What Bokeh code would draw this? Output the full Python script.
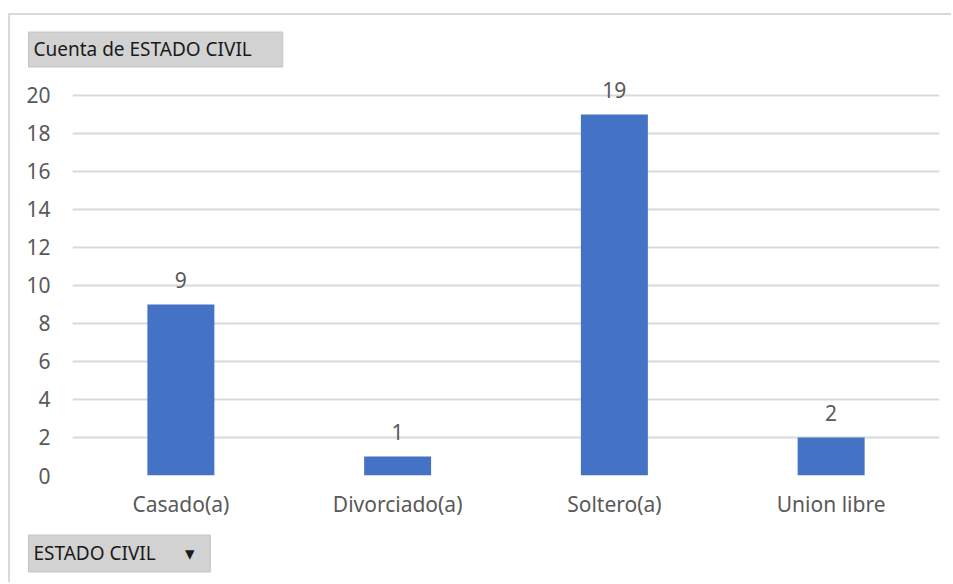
from bokeh.plotting import figure
from bokeh.models import Title, FixedTicker, ColumnDataSource
from bokeh.core.properties import value
from bokeh.embed import file_html
from bokeh.resources import INLINE

categories = ["Casado(a)", "Divorciado(a)", "Soltero(a)", "Union libre"]
counts = [9, 1, 19, 2]
y_ticks = [0, 2, 4, 6, 8, 10, 12, 14, 16, 18, 20]
title_text = "Cuenta de ESTADO CIVIL"
field_text = "ESTADO CIVIL" + "\u00a0" * 6 + "▾"

FONT = "Noto Sans"
GRAY = "#595959"

src = ColumnDataSource(dict(cat=categories, n=counts, lab=[str(c) for c in counts]))

p = figure(x_range=categories, y_range=(0, 21.31), width=943, height=569,
           output_backend="svg", toolbar_location=None,
           min_border_left=62, min_border_right=14, min_border_top=55, min_border_bottom=108)
p.margin = (13, 0, 0, 8)
p.styles = {"border-left": "2px solid #d9d9d9", "border-top": "2px solid #d9d9d9"}
p.x_range.range_padding = 0
p.outline_line_color = None
p.background_fill_color = "white"
p.border_fill_color = "white"

p.vbar(x="cat", top="n", width=0.309, source=src, fill_color="#4472C4", line_color=None)
p.text(x="cat", y="n", text="lab", source=src, text_align="center", text_baseline="middle",
       y_offset=-24, text_font=value(FONT), text_font_size="21px", text_color=GRAY)

p.yaxis.ticker = FixedTicker(ticks=y_ticks)
p.ygrid.ticker = FixedTicker(ticks=y_ticks)
p.xgrid.grid_line_color = None
p.ygrid.grid_line_color = "#d9d9d9"
p.ygrid.grid_line_width = 2
for ax in (p.xaxis[0], p.yaxis[0]):
    ax.axis_line_color = None
    ax.major_tick_line_color = None
    ax.minor_tick_line_color = None
    ax.major_label_text_font = FONT
    ax.major_label_text_font_size = "21px"
    ax.major_label_text_color = GRAY
p.xaxis.major_label_standoff = 8
p.yaxis.major_label_standoff = 16

p.title = Title(text=title_text, text_font=FONT, text_font_size="19px",
                text_font_style="normal", text_color="#1a1a1a",
                background_fill_color="#d2d2d2", border_line_color="#c4c4c4",
                padding=dict(left=5, right=31, top=4, bottom=5), offset=-44, standoff=7)
bottom = Title(text=field_text, text_font=FONT, text_font_size="19px",
               text_font_style="normal", text_color="#1a1a1a",
               background_fill_color="#d2d2d2", border_line_color="#c4c4c4",
               padding=dict(left=5, right=15, top=5, bottom=6), offset=-44, standoff=25)
p.add_layout(bottom, "below")

open("out.html", "w").write(file_html(p, INLINE))
